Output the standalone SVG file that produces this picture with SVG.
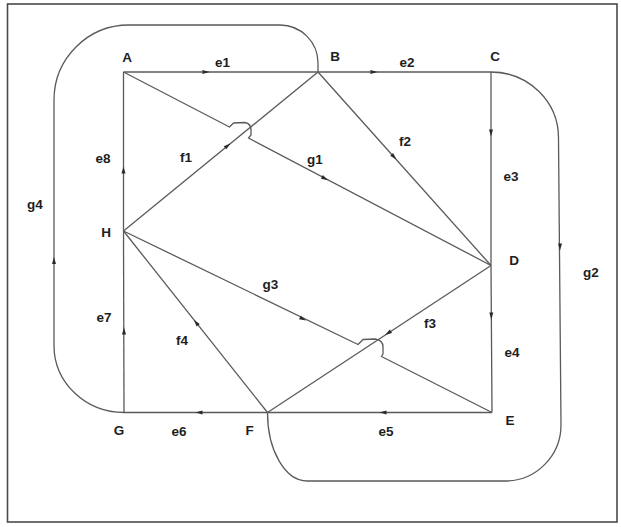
<svg xmlns="http://www.w3.org/2000/svg" width="621" height="527" viewBox="0 0 621 527">
<style>
.ln{fill:none;stroke:#5a5a5a;stroke-width:1.3;stroke-linejoin:round}
.ah{fill:#2a2a2a}
text{font-family:"Liberation Sans",Arial,sans-serif;font-weight:bold;font-size:13.5px;fill:#1e1e1e;text-anchor:middle}
</style>
<defs>
<path id="ah" class="ah" d="M-3.5,-2 L3.5,0 L-3.5,2 z"/>
</defs>
<rect x="7.5" y="4" width="609.5" height="518" fill="#fff" stroke="#4a4a4a" stroke-width="1.6"/>
<g id="connectors">
<path id="e1" class="ln" d="M123.5,72 L318,72"/>
<path id="e2" class="ln" d="M318,72 L491,72"/>
<path id="e3" class="ln" d="M491,72 L491,265.5"/>
<path id="e4" class="ln" d="M491,265.5 L492,412.5"/>
<path id="e5" class="ln" d="M492,412.5 L267.5,412.5"/>
<path id="e6" class="ln" d="M267.5,412.5 L124,412.5"/>
<path id="e7" class="ln" d="M124,412.5 L123.5,231"/>
<path id="e8" class="ln" d="M123.5,231 L123.5,72"/>
<path id="f1" class="ln" d="M123.5,231 L318,72"/>
<path id="f2" class="ln" d="M318,72 L491,265.5"/>
<path id="f3" class="ln" d="M491,265.5 L267.5,412.5"/>
<path id="f4" class="ln" d="M267.5,412.5 L123.5,231"/>
<path id="g1" class="ln" d="M123.5,72 L229.5,127 L233.5,123 L245,122.5 Q251,123.5 251,130 L251,135 L248.5,138 L491,265.5"/>
<path id="g3" class="ln" d="M123.5,231 L358,344.5 L363,339.5 L375,339 Q383,340 383,347 L383,354 L381.5,356.5 L492,412.5"/>
<path id="g4" class="ln" d="M124,412.5 A70,67 0 0 1 54,346 L54,100 A75,75 0 0 1 129,25 L280,25 A38,38 0 0 1 318,63 L318,72"/>
<path id="g2" class="ln" d="M491,72 A67.5,66 0 0 1 558.5,138 L561,425 A56,56 0 0 1 505,481 L307,481 A39.5,68.5 0 0 1 267.5,412.5"/>
<use href="#ah" transform="translate(206,72)"/>
<use href="#ah" transform="translate(374,72)"/>
<use href="#ah" transform="translate(491,133) rotate(90)"/>
<use href="#ah" transform="translate(491.3,316) rotate(90)"/>
<use href="#ah" transform="translate(383,412.5) rotate(180)"/>
<use href="#ah" transform="translate(199,412.5) rotate(180)"/>
<use href="#ah" transform="translate(124,331) rotate(-90)"/>
<use href="#ah" transform="translate(123.5,170) rotate(-90)"/>
<use href="#ah" transform="translate(54,260.5) rotate(-90)"/>
<use href="#ah" transform="translate(560,247) rotate(90)"/>
<use href="#ah" transform="translate(227.7,145.6) rotate(-39.4)"/>
<use href="#ah" transform="translate(394,157) rotate(48.3)"/>
<use href="#ah" transform="translate(325,178.5) rotate(27.8)"/>
<use href="#ah" transform="translate(303,319) rotate(26.3)"/>
<use href="#ah" transform="translate(388,333.2) rotate(146.7)"/>
<use href="#ah" transform="translate(196,322.5) rotate(-128.5)"/>
</g>
<g id="edge-labels">
<text x="222.6" y="66.5">e1</text>
<text x="407" y="66.5">e2</text>
<text x="511" y="180.5">e3</text>
<text x="512" y="357">e4</text>
<text x="386" y="436">e5</text>
<text x="179" y="436">e6</text>
<text x="104" y="322">e7</text>
<text x="103" y="163">e8</text>
<text x="186" y="162">f1</text>
<text x="405" y="145.5">f2</text>
<text x="430" y="327.7">f3</text>
<text x="182" y="345">f4</text>
<text x="315" y="164">g1</text>
<text x="591" y="277">g2</text>
<text x="270.5" y="289">g3</text>
<text x="35" y="209">g4</text>
</g>
<g id="node-A"><text x="127" y="61.5">A</text></g>
<g id="node-B"><text x="335" y="60.5">B</text></g>
<g id="node-C"><text x="495" y="60.5">C</text></g>
<g id="node-D"><text x="514" y="265">D</text></g>
<g id="node-E"><text x="510" y="424.5">E</text></g>
<g id="node-F"><text x="249.5" y="435">F</text></g>
<g id="node-G"><text x="119" y="435">G</text></g>
<g id="node-H"><text x="106" y="237">H</text></g>
</svg>
